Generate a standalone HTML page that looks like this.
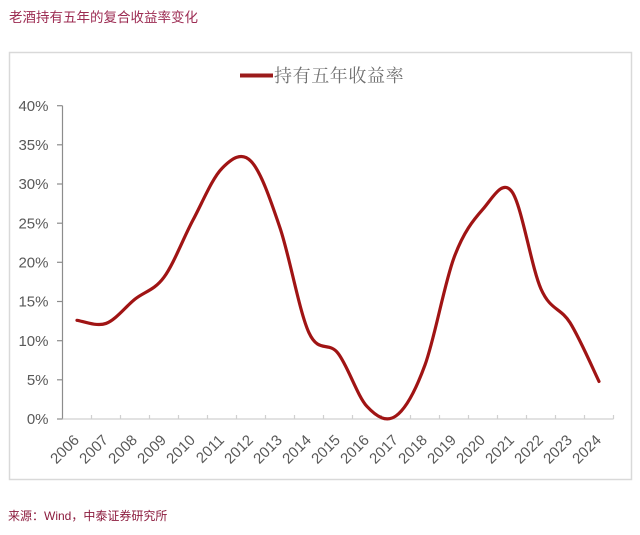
<!DOCTYPE html>
<html>
<head>
<meta charset="utf-8">
<style>
  html, body { margin:0; padding:0; background:#ffffff; }
  body { width:640px; height:535px; overflow:hidden; }
  svg { display:block; }
</style>
</head>
<body>
<svg width="640" height="535" viewBox="0 0 640 535" xmlns="http://www.w3.org/2000/svg">
  <rect x="0" y="0" width="640" height="535" fill="#ffffff"/>

  <!-- Title -->
  <text x="9" y="22" font-family="'Liberation Sans','Noto Sans CJK SC',sans-serif" font-size="13.5" fill="#9c2b52">老酒持有五年的复合收益率变化</text>

  <!-- Chart border -->
  <rect x="9.5" y="52.5" width="622" height="427" fill="#ffffff" stroke="#d9d9d9" stroke-width="1.5"/>

  <!-- Legend -->
  <line x1="240" y1="75.5" x2="273" y2="75.5" stroke="#9b1b1b" stroke-width="4"/>
  <text x="274" y="82" font-family="'Liberation Serif','Noto Serif CJK SC',serif" font-size="18" letter-spacing="0.6" fill="#707070">持有五年收益率</text>

  <!-- Y axis -->
  <line x1="62.5" y1="105.7" x2="62.5" y2="419" stroke="#8c8c8c" stroke-width="1.2"/>
  <g stroke="#8c8c8c" stroke-width="1.2">
    <line x1="57" y1="105.7" x2="62.5" y2="105.7"/>
    <line x1="57" y1="144.8" x2="62.5" y2="144.8"/>
    <line x1="57" y1="184.0" x2="62.5" y2="184.0"/>
    <line x1="57" y1="223.2" x2="62.5" y2="223.2"/>
    <line x1="57" y1="262.3" x2="62.5" y2="262.3"/>
    <line x1="57" y1="301.5" x2="62.5" y2="301.5"/>
    <line x1="57" y1="340.7" x2="62.5" y2="340.7"/>
    <line x1="57" y1="379.8" x2="62.5" y2="379.8"/>
    <line x1="57" y1="419" x2="62.5" y2="419"/>
  </g>
  <g font-family="'Liberation Sans',sans-serif" font-size="15" fill="#595959" text-anchor="end">
    <text x="48.5" y="111">40%</text>
    <text x="48.5" y="150">35%</text>
    <text x="48.5" y="189.2">30%</text>
    <text x="48.5" y="228.4">25%</text>
    <text x="48.5" y="267.5">20%</text>
    <text x="48.5" y="306.7">15%</text>
    <text x="48.5" y="345.9">10%</text>
    <text x="48.5" y="385">5%</text>
    <text x="48.5" y="424.2">0%</text>
  </g>

  <!-- X axis -->
  <line x1="62.5" y1="419" x2="613.5" y2="419" stroke="#d0d0d0" stroke-width="1.3"/>
  <g stroke="#d0d0d0" stroke-width="1.2">
    <line x1="91.5" y1="415" x2="91.5" y2="419"/>
    <line x1="120.5" y1="415" x2="120.5" y2="419"/>
    <line x1="149.5" y1="415" x2="149.5" y2="419"/>
    <line x1="178.5" y1="415" x2="178.5" y2="419"/>
    <line x1="207.5" y1="415" x2="207.5" y2="419"/>
    <line x1="236.5" y1="415" x2="236.5" y2="419"/>
    <line x1="265.5" y1="415" x2="265.5" y2="419"/>
    <line x1="294.5" y1="415" x2="294.5" y2="419"/>
    <line x1="323.5" y1="415" x2="323.5" y2="419"/>
    <line x1="352.5" y1="415" x2="352.5" y2="419"/>
    <line x1="381.5" y1="415" x2="381.5" y2="419"/>
    <line x1="410.5" y1="415" x2="410.5" y2="419"/>
    <line x1="439.5" y1="415" x2="439.5" y2="419"/>
    <line x1="468.5" y1="415" x2="468.5" y2="419"/>
    <line x1="497.5" y1="415" x2="497.5" y2="419"/>
    <line x1="526.5" y1="415" x2="526.5" y2="419"/>
    <line x1="555.5" y1="415" x2="555.5" y2="419"/>
    <line x1="584.5" y1="415" x2="584.5" y2="419"/>
    <line x1="613.5" y1="415" x2="613.5" y2="419"/>
  </g>
  <g font-family="'Liberation Sans',sans-serif" font-size="15" fill="#595959" text-anchor="end">
    <text transform="translate(80,441) rotate(-45)">2006</text>
    <text transform="translate(109,441) rotate(-45)">2007</text>
    <text transform="translate(138,441) rotate(-45)">2008</text>
    <text transform="translate(167,441) rotate(-45)">2009</text>
    <text transform="translate(196,441) rotate(-45)">2010</text>
    <text transform="translate(225,441) rotate(-45)">2011</text>
    <text transform="translate(254,441) rotate(-45)">2012</text>
    <text transform="translate(283,441) rotate(-45)">2013</text>
    <text transform="translate(312,441) rotate(-45)">2014</text>
    <text transform="translate(341,441) rotate(-45)">2015</text>
    <text transform="translate(370,441) rotate(-45)">2016</text>
    <text transform="translate(399,441) rotate(-45)">2017</text>
    <text transform="translate(428,441) rotate(-45)">2018</text>
    <text transform="translate(457,441) rotate(-45)">2019</text>
    <text transform="translate(486,441) rotate(-45)">2020</text>
    <text transform="translate(515,441) rotate(-45)">2021</text>
    <text transform="translate(544,441) rotate(-45)">2022</text>
    <text transform="translate(573,441) rotate(-45)">2023</text>
    <text transform="translate(602,441) rotate(-45)">2024</text>
  </g>

  <!-- Series -->
  <path fill="none" stroke="#a01414" stroke-width="3.2" stroke-linecap="round" stroke-linejoin="round"
    d="M77,320.30
       C81.83,320.82 96.33,326.96 106,323.44
       C115.67,319.92 125.33,306.86 135,299.16
       C144.67,291.46 154.33,290.41 164,277.22
       C173.67,264.03 183.33,238.19 193,220.04
       C202.67,201.89 212.33,178.13 222,168.34
       C231.67,158.55 241.33,151.37 251,161.29
       C260.67,171.21 270.33,199.28 280,227.87
       C289.67,256.46 299.33,311.95 309,332.84
       C318.67,353.73 328.33,340.93 338,353.20
       C347.67,365.47 357.33,396.03 367,406.47
       C376.67,416.92 386.33,422.79 396,415.87
       C405.67,408.95 415.33,391.32 425,364.95
       C434.67,338.58 444.33,283.62 454,257.64
       C463.67,231.66 473.33,220.05 483,209.08
       C492.67,198.11 502.33,178.53 512,191.84
       C521.67,205.16 531.33,267.17 541,288.97
       C550.67,310.77 560.33,307.25 570,322.65
       C579.67,338.06 594.17,371.61 599,381.40"/>

  <!-- Source -->
  <text x="8" y="520" font-family="'Liberation Sans','Noto Sans CJK SC',sans-serif" font-size="12" fill="#8c1c3e">来源：Wind，中泰证券研究所</text>
</svg>
</body>
</html>
